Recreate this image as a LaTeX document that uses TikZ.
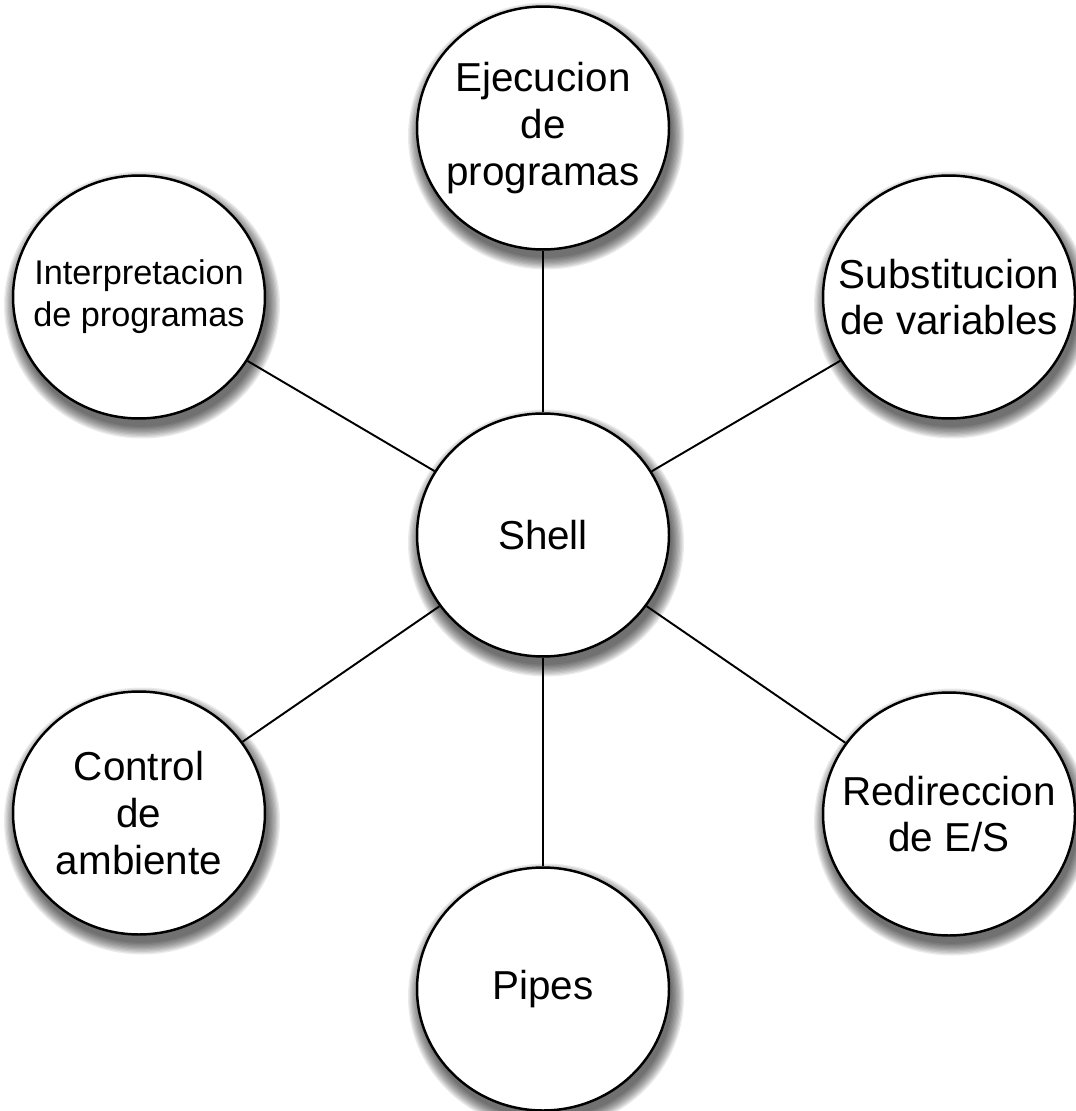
\documentclass[tikz,border=0pt]{standalone}
\usepackage{fontspec}
\setmainfont{Liberation Sans}
\usetikzlibrary{shapes.geometric}
\begin{document}
\begin{tikzpicture}[x=0.02cm,y=-0.02cm,
  bubble/.style={ellipse,draw=black,line width=1.4pt,fill=white,
    minimum width=5.04cm,minimum height=4.86cm,inner sep=0pt},
  lbl/.style={align=center,inner sep=0pt,font=\fontsize{23}{26.5}\selectfont},
  lblsmall/.style={align=center,inner sep=0pt,font=\fontsize{19.5}{24}\selectfont},
  link/.style={draw=black,line width=1.1pt}]
\useasboundingbox (0,0) rectangle (1075,1111);
% blurred drop shadows
\foreach \cx/\cy in {543/128,543/535,139/297,949/297,139/813,949/814,543/989}{
  \foreach \k in {0,...,9}{
    \fill[black,opacity=0.08] (\cx+3,\cy+8) ellipse [x radius={(126+12-1.3*\k)*0.02cm},y radius={(121.5+12-1.3*\k)*0.02cm}];
  }
}
\node[bubble,label={[lbl]center:Ejecucion\\de\\programas}] (ejec) at (543,128) {};
\node[bubble,label={[lbl]center:Shell}] (shell) at (543,535) {};
\node[bubble,label={[lblsmall]center:Interpretacion\\de programas}] (interp) at (139,297) {};
\node[bubble,label={[lbl]center:Substitucion\\de variables}] (subst) at (949,297) {};
\node[bubble,label={[lbl]center:Control\\de\\ambiente}] (ctrl) at (139,813) {};
\node[bubble,label={[lbl]center:Redireccion\\de E/S}] (redir) at (949,814) {};
\node[bubble,label={[lbl]center:Pipes}] (pipes) at (543,989) {};
\draw[link] (shell) -- (ejec);
\draw[link] (shell) -- (interp);
\draw[link] (shell) -- (subst);
\draw[link] (shell) -- (ctrl);
\draw[link] (shell) -- (redir);
\draw[link] (shell) -- (pipes);
\end{tikzpicture}
\end{document}
